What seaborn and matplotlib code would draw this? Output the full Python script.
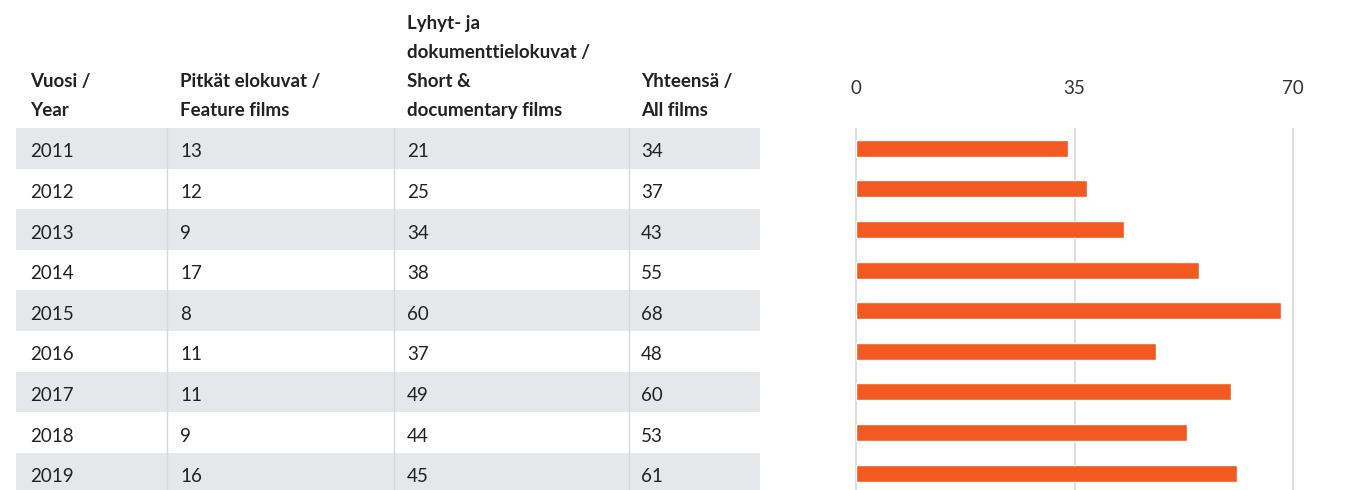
import numpy as np
import pandas as pd
import matplotlib.pyplot as plt
import seaborn as sns

years = [2011, 2012, 2013, 2014, 2015, 2016, 2017, 2018, 2019]
feature_films = [13, 12, 9, 17, 8, 11, 11, 9, 16]
short_doc_films = [21, 25, 34, 38, 60, 37, 49, 44, 45]
all_films = [34, 37, 43, 55, 68, 48, 60, 53, 61]

headers = [
    "Vuosi /\nYear",
    "Pitkät elokuvat /\nFeature films",
    "Lyhyt- ja\ndokumenttielokuvat /\nShort &\ndocumentary films",
    "Yhteensä /\nAll films",
]
x_ticks = [0, 35, 70]

df = pd.DataFrame({"year": [str(y) for y in years], "feature": feature_films,
                   "short_doc": short_doc_films, "total": all_films})

sns.set_theme(style="white")
plt.rcParams["font.family"] = ["Lato", "DejaVu Sans"]

W, H = 1354, 490
fig = plt.figure(figsize=(W / 100, H / 100), dpi=100)

bar_color = "#f25a22"
gray_row = "#e6e7e9"
line_col = "#d8d8d8"
text_col = "#222222"

row_px = 40.6
top_px = 128
n_vis = (H - top_px) / row_px
ylim = (-0.5 + n_vis, -0.5)

# --- table part ---
tab_right = 760
tax = fig.add_axes([0, 0, tab_right / W, (H - top_px) / H])
tax.set_xlim(0, tab_right)
tax.set_ylim(*ylim)
tax.axis("off")

left_px = 16
for i in range(len(df)):
    if i % 2 == 0:
        tax.axhspan(i - 0.5, i + 0.5, xmin=left_px / tab_right, xmax=1, color=gray_row, lw=0)
tax.vlines([167, 394, 629], -0.5, ylim[0], color=line_col, lw=1)

col_x = [30, 180, 407, 641]
cols = ["year", "feature", "short_doc", "total"]
for i, row in df.iterrows():
    for cx, c in zip(col_x, cols):
        tax.text(cx, i + 0.09, str(row[c]), va="center", ha="left",
                 fontsize=13.5, color=text_col)

for cx, h in zip(col_x, headers):
    fig.text(cx / W, 1 - 116 / H, h, ha="left", va="baseline", fontsize=13.5,
             fontweight="bold", color=text_col, linespacing=1.86)

# --- bar part ---
px_per_unit = (1293 - 856) / 70
bl, br = 846, 1306
bax = fig.add_axes([bl / W, 0, (br - bl) / W, (H - top_px) / H])
sns.barplot(data=df, x="total", y="year", orient="h", color=bar_color,
            width=0.42, ax=bax, saturation=1)
bax.set_xlim(-(856 - bl) / px_per_unit, 70 + (br - 1293) / px_per_unit)
bax.set_ylim(*ylim)
bax.set_xticks(x_ticks)
bax.set_yticks([])
bax.xaxis.tick_top()
bax.tick_params(axis="x", length=0, pad=22.5, labelsize=13.5, labelcolor="#333333")
bax.grid(axis="x", color=line_col, lw=1.2)
bax.set_axisbelow(True)
bax.set_xlabel("")
bax.set_ylabel("")
sns.despine(ax=bax, left=True, bottom=True, top=True, right=True)

fig.savefig("out.png", dpi=100)
